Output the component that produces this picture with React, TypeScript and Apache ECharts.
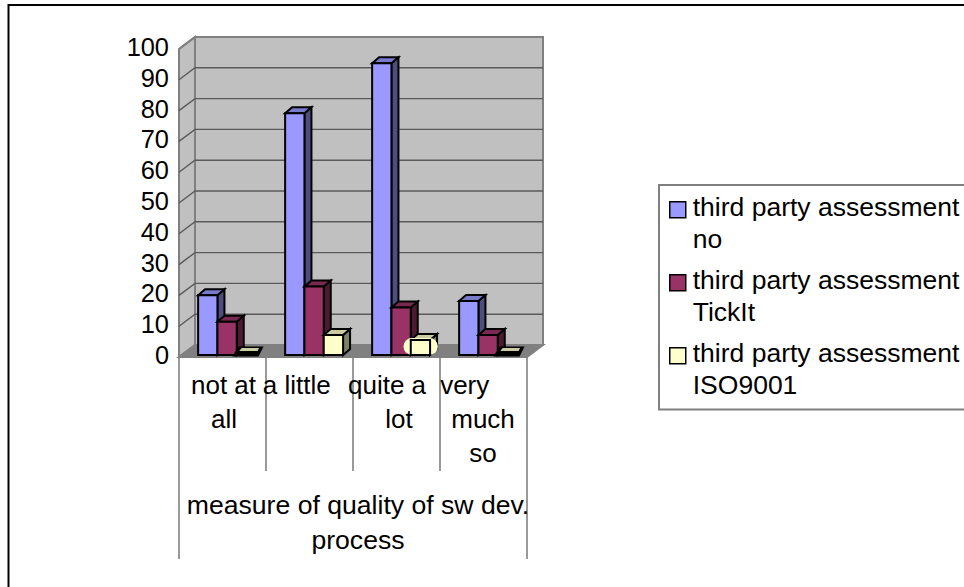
import React, { useEffect, useRef } from "react";
import * as echarts from "echarts";

const categories = ["not at all", "a little", "quite a lot", "very much so"];
const categoryLines = [["not at", "all"], ["a little"], ["quite a", "lot"], ["very", "much", "so"]];
const axisCaption = ["measure of quality of sw dev.", "process"];
const yTicks = [0, 10, 20, 30, 40, 50, 60, 70, 80, 90, 100];

const seriesNames = [
  "third party assessment\nno",
  "third party assessment\nTickIt",
  "third party assessment\nISO9001",
];
const noAssessment = [19.4, 78.5, 94.7, 17.5];
const tickIt = [10.8, 22.2, 15.4, 6.5];
const iso9001 = [0, 6.5, 4.9, 0];

const FONT = "Liberation Sans";

// Face colours of the extruded bars: front, side, top.
const palettes = [
  { front: "#9999FF", side: "#4D4D80", top: "#7A7ACC" },
  { front: "#993366", side: "#4D1A33", top: "#7A2952" },
  { front: "#FFFFCC", side: "#808066", top: "#CCCCA3" },
];

const GRID = { left: 179, top: 49, width: 348, height: 308 };
const WALL_DX = 16;
const WALL_DY = 12;
const BAR_DX = 7;
const BAR_DY = 6;
const BAR_SHIFT_X = 4.6;
const BAR_SHIFT_Y = -2;
const BAR_RATIO = 0.222;

// Horizontal nudges of each wrapped category line relative to its band centre.
const lineOffsets = [[1, 1.5], [-12.8], [-9.5, 2.5], [-18.8, -0.5, -0.5]];
const LINE_Y = [385, 419, 453];

const renderWalls = (params: any, api: any) => {
  const tick = api.value(0);
  const sys = params.coordSys;
  const xL = sys.x;
  const xR = sys.x + sys.width;
  const y = api.coord([0, tick])[1];
  const children: any[] = [];
  if (params.dataIndex === 0) {
    const yTop = api.coord([0, 100])[1];
    const yBot = api.coord([0, 0])[1];
    const edge = { stroke: "#808080", lineWidth: 2 };
    children.push(
      {
        type: "polygon",
        shape: { points: [[xL + WALL_DX, yTop - WALL_DY], [xR + WALL_DX, yTop - WALL_DY], [xR + WALL_DX, yBot - WALL_DY], [xL + WALL_DX, yBot - WALL_DY]] },
        style: { fill: "#C0C0C0", ...edge },
      },
      {
        type: "polygon",
        shape: { points: [[xL, yTop], [xL + WALL_DX, yTop - WALL_DY], [xL + WALL_DX, yBot - WALL_DY], [xL, yBot]] },
        style: { fill: "#C0C0C0", ...edge },
      },
      {
        type: "polygon",
        shape: { points: [[xL, yBot], [xR, yBot], [xR + WALL_DX, yBot - WALL_DY], [xL + WALL_DX, yBot - WALL_DY]] },
        style: { fill: "#808080", ...edge },
      },
    );
  } else if (tick < 100) {
    children.push({
      type: "polyline",
      shape: { points: [[xL, y], [xL + WALL_DX, y - WALL_DY], [xR + WALL_DX, y - WALL_DY]] },
      style: { fill: "none", stroke: "#5A5A5A", lineWidth: 1.4 },
    });
  } else {
    children.push({
      type: "polyline",
      shape: { points: [[xL, y], [xL + WALL_DX, y - WALL_DY], [xR + WALL_DX, y - WALL_DY]] },
      style: { fill: "none", stroke: "#808080", lineWidth: 2 },
    });
  }
  return { type: "group", children };
};

const makeBarRenderer = (seriesIndex: number) => (params: any, api: any) => {
  const category = api.value(0);
  const value = api.value(1);
  const [cx, yVal] = api.coord([category, value]);
  const yZero = api.coord([category, 0])[1];
  const w = api.size([1, 0])[0] * BAR_RATIO;
  const x0 = cx + (seriesIndex - 1.5) * w + BAR_SHIFT_X;
  const x1 = x0 + w;
  const yt = yVal + BAR_SHIFT_Y;
  const yb = yZero + BAR_SHIFT_Y;
  const colors = palettes[seriesIndex];
  const line = { stroke: "#000", lineWidth: 2, lineJoin: "miter" };
  const children: any[] = [];
  if (value === 0) {
    // An empty bar collapses to a flat black tile with a sliver of its top colour.
    children.push(
      {
        type: "polygon",
        shape: { points: [[x0 - 4.5, yb + 1.5], [x1 + 2.5, yb + 1.5], [x1 + 7.5, yb - 8.5], [x0 + 2, yb - 8.5]] },
        style: { fill: "#000" },
      },
      {
        type: "polygon",
        shape: { points: [[x0 + 2.5, yb - 4], [x1 + 1.5, yb - 4], [x1 + 3, yb - 7], [x0 + 5, yb - 7]] },
        style: { fill: colors.top },
      },
    );
    return { type: "group", children };
  }
  children.push(
    {
      type: "polygon",
      shape: { points: [[x1, yt], [x1 + BAR_DX, yt - BAR_DY], [x1 + BAR_DX, yb - BAR_DY], [x1, yb]] },
      style: { fill: colors.side, ...line },
    },
    {
      type: "polygon",
      shape: { points: [[x0, yt], [x1, yt], [x1 + BAR_DX, yt - BAR_DY], [x0 + BAR_DX, yt - BAR_DY]] },
      style: { fill: colors.top, ...line },
    },
  );
  if (seriesIndex === 2 && category === 2) {
    // Pale halo around the ISO9001 bar of the third group.
    children.push({
      type: "rect",
      shape: { x: x0 - 7.3, y: yt - 2, width: w + 15.1, height: yb - yt + 2, r: 8.5 },
      style: { fill: "#FFFFCC" },
    });
  }
  children.push({
    type: "rect",
    shape: { x: x0, y: yt, width: w, height: yb - yt },
    style: { fill: colors.front, ...line },
  });
  return { type: "group", children };
};

// Tall transparent box with the swatch near its top, so it lines up with the first text line.
const LEGEND_ICON = "path://M18,0L18,0M0,11H16V27H0ZM18,64L18,64";

const App = () => {
  const ref = useRef<HTMLDivElement>(null);
  useEffect(() => {
    const chart = echarts.init(ref.current!, undefined, { renderer: "svg" });
    const bandWidth = GRID.width / categories.length;
    const separators = categories.map((_, i) => i).concat(categories.length).map((i) => {
      const outer = i === 0 || i === categories.length;
      const x = GRID.left + bandWidth * i;
      return {
        type: "line",
        shape: { x1: x, y1: GRID.top + GRID.height, x2: x, y2: outer ? 559 : 471 },
        style: { stroke: "#808080", lineWidth: 1.6 },
        z: 1,
      };
    });
    const categoryTexts = categoryLines.flatMap((lines, i) =>
      lines.map((text, j) => ({
        type: "text",
        x: GRID.left + bandWidth * (i + 0.5) + lineOffsets[i][j],
        y: LINE_Y[j],
        z: 5,
        style: { fontFamily: FONT, fontSize: 26, fill: "#000", text, textAlign: "center", textVerticalAlign: "middle" },
      })),
    );
    const captionTexts = axisCaption.map((text, j) => ({
      type: "text",
      x: GRID.left + GRID.width / 2 + 5,
      y: 505 + j * 35,
      z: 5,
      style: { fontFamily: FONT, fontSize: 26.6, fill: "#000", text, textAlign: "center", textVerticalAlign: "middle" },
    }));
    const values = [noAssessment, tickIt, iso9001];
    chart.setOption({
      animation: false,
      backgroundColor: "#fff",
      grid: { ...GRID, containLabel: false },
      xAxis: {
        type: "category",
        data: categories,
        axisLine: { show: false },
        axisTick: { show: false },
        axisLabel: { show: false },
      },
      yAxis: {
        type: "value",
        min: 0,
        max: 100,
        interval: 10,
        axisLine: { show: false },
        axisTick: { show: false },
        splitLine: { show: false },
        axisLabel: {
          margin: 10,
          verticalAlign: "bottom",
          lineHeight: 4,
          color: "#000",
          fontFamily: FONT,
          fontSize: 25.4,
        },
      },
      legend: {
        left: 659,
        top: 185,
        orient: "vertical",
        backgroundColor: "#fff",
        borderColor: "#808080",
        borderWidth: 2,
        padding: [5, 12, 8, 10],
        itemWidth: 18,
        itemHeight: 64,
        itemGap: 7.5,
        selectedMode: false,
        symbolKeepAspect: false,
        icon: LEGEND_ICON,
        itemStyle: { borderColor: "#000", borderWidth: 1.5 },
        textStyle: { color: "#000", fontFamily: FONT, fontSize: 26.5, lineHeight: 32 },
        data: seriesNames,
      },
      graphic: [
        {
          type: "polyline",
          shape: { points: [[8.5, 600], [8.5, 5], [970, 5]] },
          style: { fill: "none", stroke: "#000", lineWidth: 2 },
          z: 0,
        },
        ...separators,
        ...categoryTexts,
        ...captionTexts,
      ],
      series: [
        {
          type: "custom",
          name: "walls",
          silent: true,
          z: 1,
          renderItem: renderWalls,
          encode: { x: 1, y: 0 },
          data: yTicks.map((t) => [t, 0]),
        },
        ...seriesNames.map((name, s) => ({
          type: "custom",
          name,
          silent: true,
          z: 2 + s,
          itemStyle: { color: palettes[s].front },
          renderItem: makeBarRenderer(s),
          encode: { x: 0, y: 1 },
          data: values[s].map((v, i) => [i, v]),
        })),
      ],
    });
    return () => chart.dispose();
  }, []);
  return <div ref={ref} style={{ position: "absolute", left: 0, top: 0, width: 964, height: 587 }} />;
};

export default App;
